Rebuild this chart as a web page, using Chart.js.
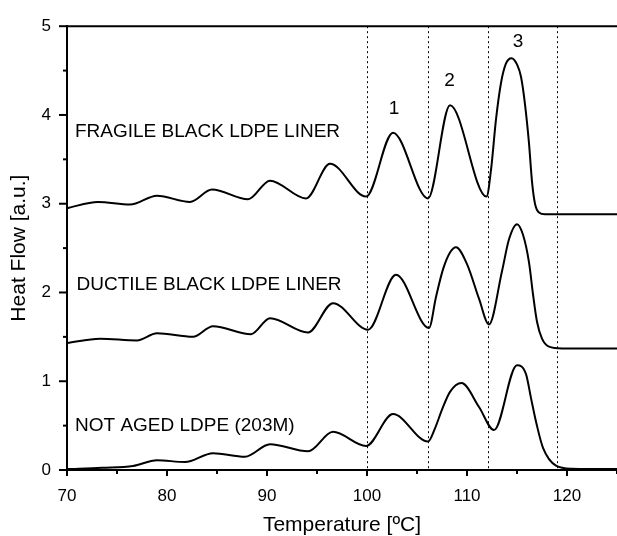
<!DOCTYPE html>
<html>
<head>
<meta charset="utf-8">
<script src="https://cdn.jsdelivr.net/npm/chart.js@4/dist/chart.umd.min.js"></script>
<style>
html,body{margin:0;padding:0;background:#ffffff;}
canvas{display:block;}
</style>
</head>
<body>
<canvas id="c" width="617" height="536"></canvas>
<script>
// ---------- data ----------
const fragileTemp = [70, 73.1, 76.3, 79.0, 82.3, 84.5, 88.1, 90.3, 93.9, 96.3, 99.9, 102.6, 106.1, 108.3, 111.95, 112.4, 112.9, 113.4, 113.9, 114.45, 115.0, 115.4, 115.8, 116.2, 116.5, 116.8, 117.2, 117.8, 125];
const fragileFlow = [2.95, 3.02, 2.99, 3.09, 3.02, 3.16, 3.05, 3.26, 3.06, 3.45, 3.08, 3.80, 3.06, 4.11, 3.08, 3.38, 3.95, 4.36, 4.58, 4.64, 4.57, 4.43, 4.12, 3.68, 3.25, 3.00, 2.90, 2.88, 2.88];

const ductileTemp = [70, 73.3, 77.0, 79.0, 82.6, 84.6, 88.4, 90.3, 94.1, 96.6, 100.1, 102.9, 106.2, 106.9, 107.6, 108.3, 108.9, 110.0, 111.2, 112.2, 113.5, 114.2, 115.0, 115.6, 116.2, 116.6, 117.0, 117.5, 118.2, 119.5, 125];
const ductileFlow = [1.43, 1.48, 1.46, 1.54, 1.50, 1.62, 1.53, 1.71, 1.55, 1.88, 1.58, 2.20, 1.60, 1.95, 2.26, 2.45, 2.51, 2.32, 1.93, 1.64, 2.24, 2.60, 2.77, 2.65, 2.34, 1.98, 1.67, 1.48, 1.39, 1.37, 1.37];

const notAgedTemp = [70, 73.5, 76.6, 79.0, 81.8, 84.6, 87.8, 90.3, 94.1, 96.6, 99.9, 102.6, 106.1, 106.8, 107.5, 108.3, 109.45, 111.2, 112.7, 115.0, 115.9, 116.4, 116.95, 117.6, 118.9, 120.5, 125];
const notAgedFlow = [0.01, 0.025, 0.045, 0.11, 0.09, 0.19, 0.15, 0.29, 0.21, 0.43, 0.27, 0.63, 0.32, 0.47, 0.68, 0.88, 0.98, 0.71, 0.45, 1.18, 1.08, 0.81, 0.52, 0.25, 0.05, 0.015, 0.01];

const markerTemps = [100, 106.1, 112.1, 119];          // dotted vertical lines
const xTickValues = [70, 80, 90, 100, 110, 120];
const yTickValues = [0, 1, 2, 3, 4, 5];
const seriesNames = ['FRAGILE BLACK LDPE LINER', 'DUCTILE BLACK LDPE LINER', 'NOT AGED LDPE (203M)'];
const peakNumbers = ['1', '2', '3'];

// annotation anchors (in data coordinates)
const nameAnchorTemp = [70.8, 70.95, 70.8];
const nameAnchorFlow = [3.81, 2.09, 0.50];
const peakAnchorTemp = [102.7, 108.25, 115.1];
const peakAnchorFlow = [4.07, 4.39, 4.83];

// ---------- chart ----------
const FONT = '"Liberation Sans", Arial, Helvetica, sans-serif';
const zip = (xs, ys) => xs.map((x, i) => ({x: x, y: ys[i]}));

const decorPlugin = {
  id: 'decor',
  beforeDatasetsDraw(chart) {
    const {ctx, chartArea, scales: {x}} = chart;
    ctx.save();
    ctx.strokeStyle = '#000';
    ctx.lineWidth = 1;
    ctx.setLineDash([2, 3]);
    markerTemps.forEach(t => {
      const px = Math.round(x.getPixelForValue(t)) + 0.5;
      ctx.beginPath();
      ctx.moveTo(px, chartArea.top);
      ctx.lineTo(px, chartArea.bottom);
      ctx.stroke();
    });
    ctx.restore();
  },
  afterDraw(chart) {
    const {ctx, chartArea, scales: {x, y}} = chart;
    ctx.save();
    ctx.strokeStyle = '#000';
    ctx.lineWidth = 2;
    ctx.beginPath();
    ctx.moveTo(chartArea.left - 1, chartArea.top);
    ctx.lineTo(chartArea.right, chartArea.top);
    ctx.stroke();
    for (let v = 70; v <= 125; v += 5) {
      const px = x.getPixelForValue(v);
      const len = (v % 10 === 0) ? 6 : 4;
      ctx.beginPath();
      ctx.moveTo(px, chartArea.bottom);
      ctx.lineTo(px, chartArea.bottom + len);
      ctx.stroke();
    }
    for (let v = 0; v <= 5; v += 0.5) {
      const py = y.getPixelForValue(v);
      const len = (Math.abs(v - Math.round(v)) < 1e-6) ? 8 : 4;
      ctx.beginPath();
      ctx.moveTo(chartArea.left, py);
      ctx.lineTo(chartArea.left - len, py);
      ctx.stroke();
    }
    ctx.fillStyle = '#000';
    ctx.font = '19px ' + FONT;
    ctx.textBaseline = 'middle';
    ctx.textAlign = 'left';
    seriesNames.forEach((s, i) => {
      ctx.fillText(s, x.getPixelForValue(nameAnchorTemp[i]), y.getPixelForValue(nameAnchorFlow[i]));
    });
    ctx.textAlign = 'center';
    peakNumbers.forEach((s, i) => {
      ctx.fillText(s, x.getPixelForValue(peakAnchorTemp[i]), y.getPixelForValue(peakAnchorFlow[i]));
    });
    ctx.restore();
  }
};

const lineStyle = {
  borderColor: '#000',
  borderWidth: 2,
  pointRadius: 0,
  fill: false,
  cubicInterpolationMode: 'monotone'
};

new Chart(document.getElementById('c'), {
  type: 'line',
  data: {
    datasets: [
      Object.assign({label: seriesNames[0], data: zip(fragileTemp, fragileFlow)}, lineStyle),
      Object.assign({label: seriesNames[1], data: zip(ductileTemp, ductileFlow)}, lineStyle),
      Object.assign({label: seriesNames[2], data: zip(notAgedTemp, notAgedFlow)}, lineStyle)
    ]
  },
  options: {
    responsive: false,
    animation: false,
    devicePixelRatio: 1,
    layout: {padding: {top: 22, right: 0, bottom: 0, left: 0}},
    plugins: {legend: {display: false}, tooltip: {enabled: false}},
    scales: {
      x: {
        type: 'linear',
        min: 70, max: 125,
        afterBuildTicks: s => { s.ticks = xTickValues.map(v => ({value: v})); },
        afterFit: s => { s.height = 66; },
        grid: {display: false, drawTicks: false},
        border: {display: true, color: '#000', width: 2},
        ticks: {color: '#000', font: {family: FONT, size: 17}, padding: 16, maxRotation: 0, autoSkip: false},
        title: {display: true, text: 'Temperature [ºC]', color: '#000', font: {family: FONT, size: 21, lineHeight: 1}, padding: {top: 0, bottom: 0}}
      },
      y: {
        type: 'linear',
        min: 0, max: 5,
        afterBuildTicks: s => { s.ticks = yTickValues.map(v => ({value: v})); },
        afterFit: s => { s.width = 67; },
        grid: {display: false, drawTicks: false},
        border: {display: true, color: '#000', width: 2},
        ticks: {color: '#000', font: {family: FONT, size: 17}, padding: 16},
        title: {display: true, text: 'Heat Flow [a.u.]', color: '#000', font: {family: FONT, size: 21, lineHeight: 1}, padding: {top: 9, bottom: 0}}
      }
    }
  },
  plugins: [decorPlugin]
});
</script>
</body>
</html>
